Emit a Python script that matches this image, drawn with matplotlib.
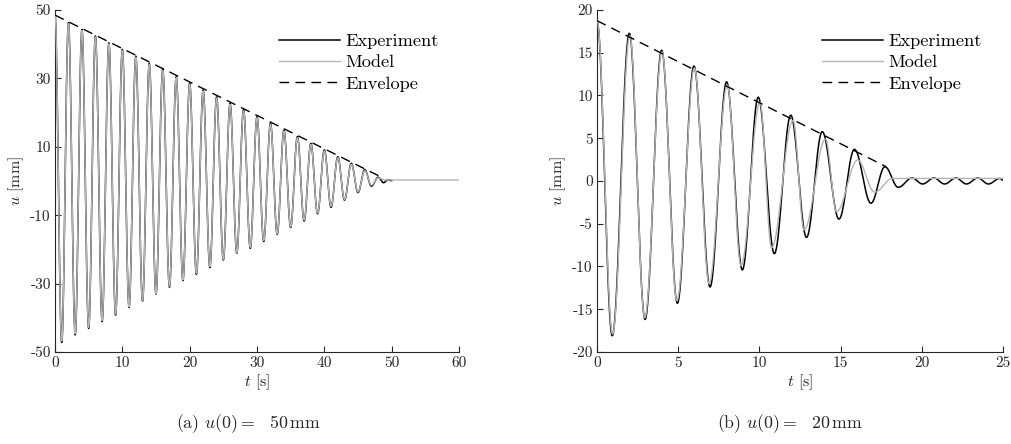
import numpy as np
import matplotlib
matplotlib.use("Agg")
import matplotlib.pyplot as plt

plt.rcParams["font.family"] = "serif"
plt.rcParams["font.serif"] = ["cmr10", "DejaVu Serif"]
plt.rcParams["mathtext.fontset"] = "cm"
plt.rcParams["axes.formatter.use_mathtext"] = True
plt.rcParams["axes.unicode_minus"] = False

# ---------------------------------------------------------------
# Data: turning points (time, displacement)
# ---------------------------------------------------------------
# (a) u(0) = 50 mm
a_exp_t = [0, 1, 2, 3, 4, 5, 6, 7, 8, 9, 10, 11, 12, 13, 14, 15, 16, 17,
           18, 19, 20, 21, 22, 23, 24, 25, 26, 27, 28, 29, 30, 31, 32, 33,
           34, 35, 36, 37, 38, 39, 40, 41, 42, 43, 44, 45, 46, 47, 48,
           48.8, 49.4, 50.0]
a_exp_u = [48.5, -47.2, 46.3, -45.0, 44.3, -43.1, 42.4, -41.1, 40.4, -39.2,
           38.5, -37.0, 36.5, -35.1, 34.4, -33.1, 32.7, -31.1, 30.5, -29.1,
           28.6, -27.3, 26.6, -25.3, 24.6, -23.1, 22.7, -21.1, 20.8, -19.7,
           18.8, -17.7, 16.9, -15.6, 14.9, -13.6, 13.0, -11.7, 11.0, -9.6,
           9.1, -7.7, 7.1, -5.6, 5.2, -3.4, 3.3, -1.5, 1.1,
           -0.5, 0.3, 0.1]
a_mod_t = [0, 1, 2, 3, 4, 5, 6, 7, 8, 9, 10, 11, 12, 13, 14, 15, 16, 17,
           18, 19, 20, 21, 22, 23, 24, 25, 26, 27, 28, 29, 30, 31, 32, 33,
           34, 35, 36, 37, 38, 39, 40, 41, 42, 43, 44, 45, 46, 47, 48,
           49.0, 60.0]
a_mod_u = [48.5, -46.8, 46.0, -44.7, 44.0, -42.8, 42.1, -40.8, 40.1, -38.9,
           38.2, -36.8, 36.2, -34.9, 34.1, -32.9, 32.3, -30.9, 30.2, -28.9,
           28.3, -27.0, 26.3, -25.0, 24.3, -22.9, 22.4, -20.9, 20.5, -19.4,
           18.5, -17.4, 16.6, -15.4, 14.6, -13.4, 12.7, -11.4, 10.7, -9.4,
           8.8, -7.4, 6.8, -5.4, 4.9, -3.2, 3.0, -1.2, 0.9,
           0.3, 0.3]
a_env_t = [0.0, 48.3]
a_env_u = [48.5, 1.3]

# (b) u(0) = 20 mm
b_exp_t = [0, 0.94, 1.99, 2.96, 3.98, 4.95, 5.97, 6.96, 7.98, 8.95, 9.93,
           10.92, 11.93, 12.9, 13.87, 14.9, 15.85, 16.87, 17.73, 18.55,
           19.4, 20.05, 20.75, 21.4, 22.1, 22.75, 23.45, 24.1, 24.8, 25.0]
b_exp_u = [18.75, -18.1, 17.27, -16.2, 15.3, -14.3, 13.45, -12.4, 11.6,
           -10.4, 9.8, -8.5, 7.7, -6.6, 5.77, -4.45, 3.7, -2.6, 1.67, -0.74,
           0.35, -0.35, 0.35, -0.35, 0.35, -0.35, 0.35, -0.35, 0.3, 0.1]
b_mod_t = [0, 0.96, 2.02, 2.94, 4.0, 4.92, 6.0, 6.9, 8.02, 8.87, 10.03,
           10.75, 12.07, 12.75, 14.07, 14.75, 16.05, 17.1, 18.2, 25.0]
b_mod_u = [18.75, -17.9, 17.0, -16.0, 15.1, -14.0, 13.2, -12.0, 11.2, -9.9,
           9.2, -7.8, 7.1, -5.7, 4.9, -3.6, 2.45, -1.3, 0.3, 0.3]
b_env_t = [0.0, 17.8]
b_env_u = [18.75, 1.67]

a_xticks = [0, 10, 20, 30, 40, 50, 60]
a_yticks = [-50, -30, -10, 10, 30, 50]
b_xticks = [0, 5, 10, 15, 20, 25]
b_yticks = [-20, -15, -10, -5, 0, 5, 10, 15, 20]

INK = "#262626"


def through_turning_points(t, u, n=40):
    """Join successive turning points with half-cosine arcs."""
    ts, us = [], []
    for i in range(len(t) - 1):
        s = np.linspace(0, 1, n, endpoint=False)
        mid = 0.5 * (u[i] + u[i + 1])
        half = 0.5 * (u[i] - u[i + 1])
        ts.append(t[i] + s * (t[i + 1] - t[i]))
        us.append(mid + half * np.cos(np.pi * s))
    ts.append([t[-1]])
    us.append([u[-1]])
    return np.concatenate(ts), np.concatenate(us)


def draw_panel(ax, exp, mod, env, xlim, ylim, xticks, yticks, caption, cap_x):
    ax.plot(*through_turning_points(*exp), color="black", lw=1.1,
            label="Experiment", zorder=3)
    ax.plot(*through_turning_points(*mod), color="#b4b4b4", lw=1.0,
            label="Model", zorder=4)
    ax.plot(*env, color="black", lw=1.0, ls=(0, (7, 4.5)),
            label="Envelope", zorder=5)

    ax.set_xlim(*xlim)
    ax.set_ylim(*ylim)
    ax.set_xticks(xticks)
    ax.set_xticklabels([str(v) for v in xticks])
    ax.set_yticks(yticks)
    ax.set_yticklabels([str(v) for v in yticks])
    for side in ("top", "right"):
        ax.spines[side].set_visible(False)
    for side in ("left", "bottom"):
        ax.spines[side].set_color(INK)
        ax.spines[side].set_linewidth(0.8)
    ax.tick_params(direction="in", length=4, width=0.8, colors=INK,
                   labelsize=11, pad=3)
    ax.set_xlabel(r"$t$ [s]", fontsize=11.5, color=INK, labelpad=2)
    ax.set_ylabel(r"$u$ [mm]", fontsize=11.5, color=INK, labelpad=3)

    ax.legend(loc="upper left", bbox_to_anchor=(0.555, 0.932), frameon=False,
              fontsize=13.2, handlelength=3.3, handletextpad=0.3,
              labelspacing=0.3, borderpad=0, borderaxespad=0)
    fig.text(cap_x, 0.045, caption, ha="center", va="center", fontsize=12.8,
             color=INK)


fig = plt.figure(figsize=(10.11, 4.44), dpi=100)
ax_a = fig.add_axes([0.0544, 0.2072, 0.3996, 0.7703])
ax_b = fig.add_axes([0.5905, 0.2072, 0.4016, 0.7703])

draw_panel(ax_a, (a_exp_t, a_exp_u), (a_mod_t, a_mod_u), (a_env_t, a_env_u),
           (0, 60), (-50, 50), a_xticks, a_yticks,
           r"(a) $u(0)=$  50$\,$mm", 248 / 1011)
draw_panel(ax_b, (b_exp_t, b_exp_u), (b_mod_t, b_mod_u), (b_env_t, b_env_u),
           (0, 25), (-20, 20), b_xticks, b_yticks,
           r"(b) $u(0)=$  20$\,$mm", 790 / 1011)

fig.savefig("out.png", dpi=100)
